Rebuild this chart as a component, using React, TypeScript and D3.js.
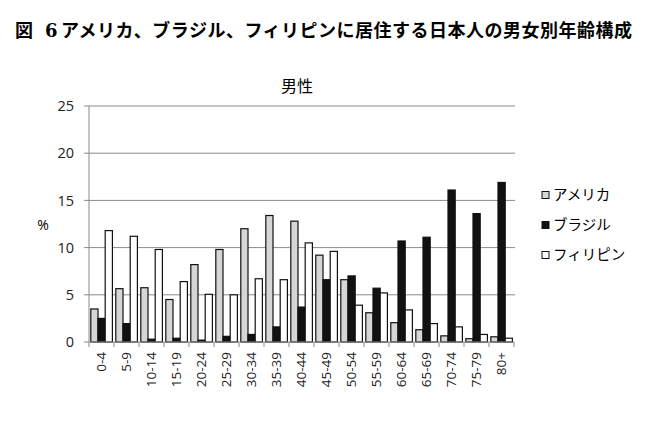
import React, { useEffect } from "react";
import * as d3 from "d3";

const categories = ["0-4", "5-9", "10-14", "15-19", "20-24", "25-29", "30-34", "35-39", "40-44", "45-49", "50-54", "55-59", "60-64", "65-69", "70-74", "75-79", "80+"];
const america     = [3.5, 5.65, 5.75, 4.5, 8.2, 9.8, 12.0, 13.4, 12.8, 9.2, 6.6, 3.1, 2.05, 1.3, 0.65, 0.35, 0.55];
const brazil      = [2.5, 1.95, 0.3, 0.4, 0.2, 0.6, 0.8, 1.6, 3.7, 6.6, 7.0, 5.7, 10.7, 11.1, 16.1, 13.6, 16.9];
const philippines = [11.8, 11.2, 9.8, 6.4, 5.05, 5.0, 6.7, 6.6, 10.5, 9.6, 3.9, 5.2, 3.4, 1.95, 1.6, 0.8, 0.4];
const seriesNames = ["アメリカ", "ブラジル", "フィリピン"];
const yTicks = [0, 5, 10, 15, 20, 25];

const W = 654, H = 437;
const fills = ["#d6d6d6", "#111", "#fff"];
const tickFont = "'Open Sans', 'DejaVu Sans', sans-serif";
const jpFont = "'Noto Sans CJK JP', sans-serif";

export default function App() {
  useEffect(() => {
    document.body.style.margin = "0";
  }, []);

  const x = d3.scaleBand<string>().domain(categories).range([89, 514]);
  const inner = d3.scaleBand<number>().domain([0, 1, 2]).range([1.8, 23.4]);
  const y = d3.scaleLinear().domain([0, 25]).range([342, 106]);
  const series = [america, brazil, philippines];
  const titleStyle = { fontFamily: jpFont, fontWeight: 700, fontSize: 18 };

  return (
    <svg width={W} height={H} style={{ display: "block", background: "#fff" }}>
      <text x={15} y={37} style={titleStyle}>図</text>
      <text x={45} y={37} style={{ ...titleStyle, fontFamily: "'DejaVu Serif', serif" }}>6</text>
      <text x={61} y={37} textLength={571} lengthAdjust="spacing" style={titleStyle}>
        アメリカ、ブラジル、フィリピンに居住する日本人の男女別年齢構成
      </text>
      <text x={297} y={92} textAnchor="middle" style={{ fontFamily: jpFont, fontSize: 16 }}>男性</text>

      {/* grid + y axis */}
      {yTicks.map(t => (
        <g key={t}>
          {t > 0 && <line x1={89} x2={515} y1={y(t)} y2={y(t)} stroke="#8a8a8a" strokeWidth={1} />}
          <line x1={84} x2={89} y1={y(t)} y2={y(t)} stroke="#8a8a8a" />
          <text x={74} y={y(t)} dy="0.36em" textAnchor="end" style={{ fontFamily: tickFont, fontSize: 14.5 }} fill="#222">{t}</text>
        </g>
      ))}
      <line x1={89} x2={89} y1={y(25)} y2={y(0)} stroke="#8a8a8a" />
      <text x={43} y={225} textAnchor="middle" dy="0.36em" style={{ fontFamily: tickFont, fontSize: 14 }}>%</text>

      {/* bars */}
      {series.map((vals, si) =>
        vals.map((v, i) => (
          <rect key={si + "-" + i}
            x={x(categories[i])! + inner(si)!}
            y={y(v)}
            width={inner.bandwidth()}
            height={y(0) - y(v)}
            fill={fills[si]}
            stroke="#111"
            strokeWidth={1.2} />
        ))
      )}

      {/* x axis */}
      <line x1={89} x2={514} y1={y(0)} y2={y(0)} stroke="#8a8a8a" />
      {categories.map((c, i) => (
        <line key={"t" + i} x1={x(c)!} x2={x(c)!} y1={y(0)} y2={y(0) + 5} stroke="#8a8a8a" />
      ))}
      <line x1={514} x2={514} y1={y(0)} y2={y(0) + 5} stroke="#8a8a8a" />
      {categories.map(c => (
        <text key={c}
          transform={`translate(${x(c)! + x.bandwidth() / 2},352) rotate(-90)`}
          textAnchor="end" dy="0.36em"
          style={{ fontFamily: tickFont, fontSize: 13.5 }} fill="#222">{c}</text>
      ))}

      {/* legend */}
      {seriesNames.map((n, i) => (
        <g key={n} transform={`translate(542,${195 + i * 30})`}>
          <rect x={0} y={-3.5} width={7} height={7} fill={fills[i]} stroke="#111" strokeWidth={1} />
          <text x={11} dy="0.36em" style={{ fontFamily: jpFont, fontSize: 14.5 }}>{n}</text>
        </g>
      ))}
    </svg>
  );
}
